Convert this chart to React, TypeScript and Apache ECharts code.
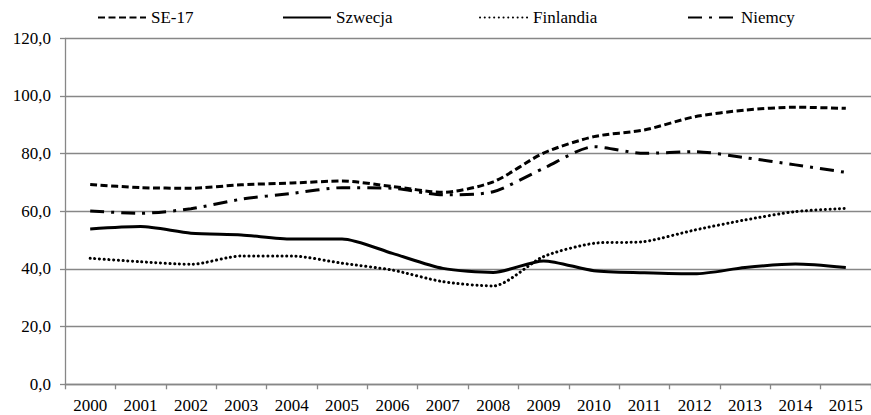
import React, { useEffect, useRef } from "react";
import * as echarts from "echarts";

const years = ["2000","2001","2002","2003","2004","2005","2006","2007","2008","2009","2010","2011","2012","2013","2014","2015"];
const se17 = [69.3, 68.2, 68.0, 69.2, 69.8, 70.5, 68.6, 66.6, 70.2, 80.2, 85.9, 88.2, 92.8, 95.1, 96.1, 95.7];
const szwecja = [53.9, 54.7, 52.4, 51.8, 50.4, 50.4, 45.4, 40.2, 38.8, 42.8, 39.4, 38.7, 38.3, 40.5, 41.7, 40.5];
const finlandia = [43.7, 42.5, 41.6, 44.5, 44.5, 42.0, 39.6, 35.6, 34.1, 44.3, 48.9, 49.5, 53.5, 57.0, 59.9, 61.0];
const niemcy = [60.1, 59.3, 60.9, 64.2, 66.2, 68.2, 68.0, 65.7, 66.8, 74.9, 82.4, 80.1, 80.7, 78.6, 76.1, 73.5];
const seriesNames = ["SE-17", "Szwecja", "Finlandia", "Niemcy"];

const FONT = "Liberation Serif";
const GRAY = "#878787";

export default function App() {
  const ref = useRef<HTMLDivElement>(null);
  useEffect(() => {
    document.body.style.margin = "0";
    if (!ref.current) return;
    const chart = echarts.init(ref.current, undefined, { renderer: "svg" });
    const legendLefts = [97, 282, 479, 687];
    const styles: any[] = [
      { width: 3, type: [7, 3.5], cap: "butt" },
      { width: 3, type: "solid" },
      { width: 3, type: [0.1, 4.6], cap: "round" },
      { width: 3, type: [14, 7, 3, 7], cap: "butt" },
    ];
    const datas = [se17, szwecja, finlandia, niemcy];
    chart.setOption({
      animation: false,
      backgroundColor: "#ffffff",
      textStyle: { fontFamily: FONT },
      legend: seriesNames.map((n, i) => ({
        data: [n],
        left: legendLefts[i],
        top: 9,
        itemWidth: 48,
        itemHeight: 20,
        padding: 0,
        itemStyle: { color: "rgba(0,0,0,0)", borderColor: "rgba(0,0,0,0)", borderWidth: 0 },
        textStyle: { fontFamily: FONT, fontSize: 17, color: "#000" },
      })),
      grid: { left: 65, top: 38.3, width: 810.7, height: 346, containLabel: false },
      xAxis: {
        type: "category",
        data: years,
        boundaryGap: true,
        axisLine: { lineStyle: { color: GRAY, width: 1.3 } },
        axisTick: { show: true, length: 5, lineStyle: { color: GRAY, width: 1.3 } },
        axisLabel: { fontFamily: FONT, fontSize: 17, color: "#000", margin: 13, interval: 0 },
        splitLine: { show: false },
      },
      yAxis: {
        type: "value",
        min: 0,
        max: 120,
        interval: 20,
        axisLine: { show: true, lineStyle: { color: GRAY, width: 1.3 } },
        axisTick: { show: true, length: 5, lineStyle: { color: GRAY, width: 1.3 } },
        axisLabel: {
          fontFamily: FONT,
          fontSize: 17,
          color: "#000",
          margin: 14,
          formatter: (v: number) => v.toFixed(1).replace(".", ","),
        },
        splitLine: { show: true, lineStyle: { color: GRAY, width: 1.3 } },
      },
      series: seriesNames.map((n, i) => ({
        name: n,
        type: "line",
        data: datas[i],
        symbol: "none",
        smooth: 0.25,
        lineStyle: { color: "#000", ...styles[i] },
        itemStyle: { color: "#000" },
      })),
    });
    return () => chart.dispose();
  }, []);
  return <div ref={ref} style={{ width: 871, height: 415 }} />;
}
